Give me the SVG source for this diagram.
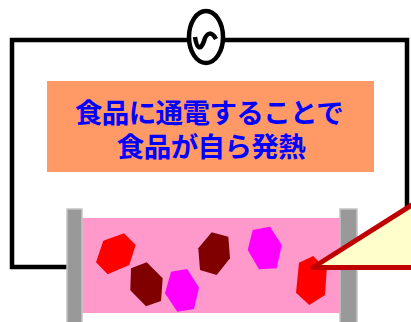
<svg xmlns="http://www.w3.org/2000/svg" width="411" height="322" viewBox="0 0 411 322">
  <style>
    .wire { fill: none; stroke: #000000; stroke-width: 4.5; stroke-linejoin: miter; }
    .electrode { fill: #999999; stroke: #C4C4C4; stroke-width: 1.5; }
    .label { font-family: "Noto Sans CJK JP", "Noto Sans CJK SC", sans-serif; font-weight: bold; font-size: 27.5px; letter-spacing: -0.6px; fill: #0000FF; text-anchor: middle; }
    .red { fill: #FF0000; }
    .maroon { fill: #800000; }
    .magenta { fill: #FF00FF; }
  </style>
  <rect width="411" height="322" fill="#FFFFFF"/>

  <!-- circuit wiring -->
  <g id="connectors">
    <polyline class="wire" points="188,40 12,40 12,267 67,267"/>
    <polyline class="wire" points="224,40 407,40 407,215"/>
  </g>

  <!-- AC power source -->
  <g id="source">
    <ellipse cx="206" cy="37" rx="17" ry="26" fill="#FFFFFF" stroke="#000000" stroke-width="4.5"/>
    <path d="M195,37 C197,50 201,50 204,41 C207,31 212,32 216,39" fill="none" stroke="#000000" stroke-width="4.5"/>
  </g>

  <!-- caption box -->
  <g id="caption">
    <rect x="47" y="81" width="327" height="91" fill="#FF9966"/>
    <text class="label" x="209" y="122.5">食品に通電することで</text>
    <text class="label" x="211" y="156.5">食品が自ら発熱</text>
  </g>

  <!-- food chamber with electrodes -->
  <g id="chamber">
    <rect x="82" y="218" width="258" height="95" fill="#FF99CC"/>
    <rect class="electrode" x="67" y="209" width="15" height="120"/>
    <rect class="electrode" x="340" y="209" width="17" height="120"/>
  </g>

  <!-- food particles -->
  <g id="particles">
    <polygon class="red" points="103.3,240.7 124,233.3 135.7,245 129.3,265 107.7,274.3 96,262.3"/>
    <polygon class="maroon" points="131,268.3 146.7,262.3 162.7,278.3 161,301 146,306.3 130.3,290.3"/>
    <polygon class="magenta" points="171,271.7 187.3,269 199,287.7 194,309 177.3,311.7 165,293.3"/>
    <polygon class="maroon" points="198.3,248.3 211.7,232.3 228.3,236.7 230,258.3 216.7,275 200,270"/>
    <polygon class="magenta" points="252.7,230 270,226.7 281.7,245 276.7,268.3 259,269.3 247.7,250"/>
    <polygon class="red" points="299,262.7 313.3,256 326.7,270 325,295 309.3,305 296,292.7"/>
  </g>

  <!-- callout pointer -->
  <g id="callout">
    <polygon points="313,267.5 430,193.5 430,267.5" fill="#FFFFCC" stroke="#C00000" stroke-width="5" stroke-linejoin="round"/>
  </g>
</svg>
